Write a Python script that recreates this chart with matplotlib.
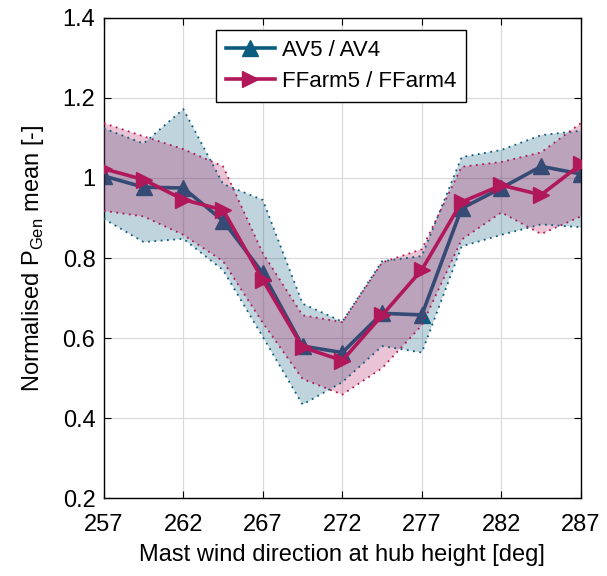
import numpy as np
import matplotlib
matplotlib.use("Agg")
import matplotlib.pyplot as plt

plt.rcParams['font.family'] = ['Liberation Sans', 'DejaVu Sans']
plt.rcParams['mathtext.fontset'] = 'custom'
plt.rcParams['mathtext.rm'] = 'Liberation Sans'

# wind direction bins
wind_dir = [257, 259.5, 262, 264.5, 267, 269.5, 272, 274.5, 277, 279.5, 282, 284.5, 287]

# AV5 / AV4 (measured)
av_mean = [1.005, 0.977, 0.975, 0.893, 0.762, 0.580, 0.564, 0.662, 0.658, 0.924, 0.975, 1.029, 1.010]
av_upper = [1.124, 1.086, 1.172, 0.985, 0.945, 0.686, 0.641, 0.792, 0.805, 1.052, 1.070, 1.107, 1.118]
av_lower = [0.898, 0.840, 0.848, 0.770, 0.603, 0.434, 0.490, 0.580, 0.564, 0.829, 0.858, 0.884, 0.877]

# FFarm5 / FFarm4 (simulated)
ff_mean = [1.023, 0.996, 0.946, 0.920, 0.745, 0.577, 0.544, 0.657, 0.771, 0.940, 0.982, 0.958, 1.034]
ff_upper = [1.137, 1.104, 1.072, 1.029, 0.812, 0.657, 0.640, 0.789, 0.822, 1.028, 1.040, 1.064, 1.137]
ff_lower = [0.918, 0.904, 0.858, 0.792, 0.638, 0.498, 0.459, 0.525, 0.632, 0.846, 0.914, 0.860, 0.904]

xticks = [257, 262, 267, 272, 277, 282, 287]
yticks = [0.2, 0.4, 0.6, 0.8, 1.0, 1.2, 1.4]

c_av = '#0B5C7E'
c_ff = '#B0185A'
fs = 17

fig = plt.figure(figsize=(6.07, 5.76), dpi=100)
ax = fig.add_axes([0.171, 0.135, 0.786, 0.834])

ax.plot(wind_dir, av_mean, color=c_av, lw=2.6, marker='^', ms=11, label='AV5 / AV4', zorder=2)
ax.fill_between(wind_dir, av_lower, av_upper, facecolor=c_av, alpha=0.26, lw=0, zorder=3)
ax.fill_between(wind_dir, ff_lower, ff_upper, facecolor=c_ff, alpha=0.26, lw=0, zorder=3)
for lo, hi, c in [(av_lower, av_upper, c_av), (ff_lower, ff_upper, c_ff)]:
    ax.plot(wind_dir, lo, color=c, lw=1.3, ls=(0, (1, 2.5)), zorder=3.5)
    ax.plot(wind_dir, hi, color=c, lw=1.3, ls=(0, (1, 2.5)), zorder=3.5)
ax.plot(wind_dir, ff_mean, color=c_ff, lw=2.6, marker='>', ms=11, label='FFarm5 / FFarm4', zorder=4)

ax.set_xlim(257, 287)
ax.set_ylim(0.2, 1.4)
ax.set_xticks(xticks)
ax.set_yticks(yticks)
ax.set_yticklabels([f'{v:g}' for v in yticks])
ax.tick_params(direction='in', length=5, labelsize=fs, top=True, right=True)
ax.tick_params(axis='x', pad=11)
ax.tick_params(axis='y', pad=6)
ax.grid(True, color='#d9d9d9', lw=0.9)
ax.set_axisbelow(True)
for s in ax.spines.values():
    s.set_linewidth(1.0)

ax.set_xlabel('Mast wind direction at hub height [deg]', fontsize=fs, labelpad=6)
ax.set_ylabel(r'Normalised P$_{\mathrm{Gen}}$ mean [-]', fontsize=fs, labelpad=12)

leg = ax.legend(loc='upper center', bbox_to_anchor=(0.497, 0.975), fontsize=16,
                fancybox=False, edgecolor='black', framealpha=1, handlelength=2.2,
                borderpad=0.45, labelspacing=0.45, handletextpad=0.3, borderaxespad=0)
leg.get_frame().set_linewidth(1.0)

fig.savefig('out.png', dpi=100)
plt.close(fig)
